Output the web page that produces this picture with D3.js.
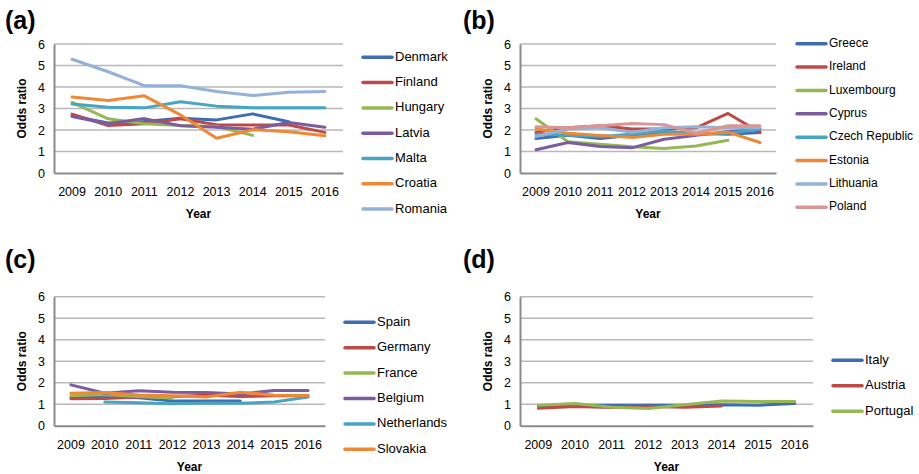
<!DOCTYPE html>
<html><head><meta charset="utf-8">
<script src="https://cdn.jsdelivr.net/npm/d3@7"></script>
<style>
body{margin:0;background:#fff;}
svg{display:block;font-family:"Liberation Sans",Arial,sans-serif;}
</style></head>
<body><svg id="c" width="919" height="474"></svg>
<script>
const years = [2009, 2010, 2011, 2012, 2013, 2014, 2015, 2016];
const yTicks = [0, 1, 2, 3, 4, 5, 6];
const palette = ["#3F6DB3", "#BE4A47", "#95B854", "#7B5C9E", "#45A5C2", "#EF8834", "#94B2D8", "#D99694"];

// Panel (a)
const countriesA = ["Denmark", "Finland", "Hungary", "Latvia", "Malta", "Croatia", "Romania"];
const valuesA = [
  [2.65, 2.33, 2.40, 2.55, 2.47, 2.75, 2.38, null],
  [2.74, 2.21, 2.29, 2.52, 2.24, 2.23, 2.23, 1.89],
  [3.28, 2.52, 2.29, 2.21, 2.16, 1.75, null, null],
  [2.63, 2.29, 2.53, 2.20, 2.13, 2.04, 2.35, 2.13],
  [3.21, 3.06, 3.03, 3.31, 3.11, 3.03, 3.04, 3.04],
  [3.54, 3.37, 3.59, 2.70, 1.62, 2.01, 1.92, 1.73],
  [5.29, 4.71, 4.06, 4.06, 3.79, 3.60, 3.76, 3.79]
];

// Panel (b)
const countriesB = ["Greece", "Ireland", "Luxembourg", "Cyprus", "Czech Republic", "Estonia", "Lithuania", "Poland"];
const valuesB = [
  [1.60, 1.75, 1.60, 1.75, 1.90, 1.85, 1.80, 1.88],
  [1.90, 2.10, 2.20, 2.05, 2.05, 2.10, 2.77, 1.88],
  [2.52, 1.45, 1.34, 1.22, 1.14, 1.26, 1.52, null],
  [1.08, 1.42, 1.23, 1.17, 1.57, 1.75, 1.92, 2.03],
  [1.80, 1.75, 1.70, 1.80, 1.95, 1.80, 1.85, 2.05],
  [2.05, 1.85, 1.75, 1.65, 1.80, 1.80, 1.90, 1.42],
  [1.70, 2.05, 2.10, 1.90, 2.10, 2.15, 2.10, 2.10],
  [2.15, 2.10, 2.20, 2.30, 2.25, 1.85, 2.20, 2.20]
];

// Panel (c)
const countriesC = ["Spain", "Germany", "France", "Belgium", "Netherlands", "Slovakia"];
const valuesC = [
  [1.30, 1.35, 1.30, 1.15, 1.15, 1.15, null, null],
  [1.25, 1.26, 1.33, 1.36, 1.42, 1.36, 1.39, 1.39],
  [1.39, 1.45, 1.36, 1.29, null, null, null, null],
  [1.90, 1.51, 1.62, 1.56, 1.54, 1.47, 1.64, 1.64],
  [null, 1.10, 1.07, 1.02, 1.06, 1.04, 1.10, 1.33],
  [1.51, 1.54, 1.43, 1.39, 1.33, 1.56, 1.42, 1.40]
];

// Panel (d)
const countriesD = ["Italy", "Austria", "Portugal"];
const valuesD = [
  [0.93, 0.95, 0.95, 0.95, 0.95, 0.97, 0.95, 1.03],
  [0.81, 0.89, 0.85, 0.89, 0.86, 0.92, null, null],
  [0.95, 1.03, 0.86, 0.80, 0.97, 1.15, 1.12, 1.13]
];

const panels = [
  {label: "(a)", lx: 5, ly: 29, L: 54, R: 343, T: 44, B: 173, legX: 363, legY: 57.3, legStep: 25.3, legFont: 13, names: countriesA, vals: valuesA},
  {label: "(b)", lx: 463, ly: 29, L: 520, R: 776, T: 44, B: 173, legX: 797, legY: 43.7, legStep: 23.37, legFont: 12, names: countriesB, vals: valuesB},
  {label: "(c)", lx: 5, ly: 268, L: 54, R: 325, T: 296.7, B: 425.7, legX: 345, legY: 322.3, legStep: 25.4, legFont: 13, names: countriesC, vals: valuesC},
  {label: "(d)", lx: 463, ly: 268, L: 520, R: 813, T: 296.7, B: 425.7, legX: 833, legY: 360.3, legStep: 25.5, legFont: 13, names: countriesD, vals: valuesD}
];

const svg = d3.select("#c");

panels.forEach(p => {
  const g = svg.append("g");
  const x = d3.scaleBand().domain(years).range([p.L, p.R]);
  const y = d3.scaleLinear().domain([0, 6]).range([p.B, p.T]);

  g.append("text").attr("x", p.lx).attr("y", p.ly).attr("font-size", 25).attr("font-weight", "bold").attr("fill", "#000").text(p.label);

  // gridlines
  g.selectAll(".grid").data(yTicks.filter(t => t > 0)).enter().append("line")
    .attr("x1", p.L).attr("x2", p.R).attr("y1", d => y(d)).attr("y2", d => y(d))
    .attr("stroke", "#B8B8B8").attr("stroke-width", 1.5);

  // y axis
  const yAxis = d3.axisLeft(y).tickValues(yTicks).tickSize(0).tickPadding(9).tickFormat(d3.format("d"));
  const ya = g.append("g").attr("transform", `translate(${p.L},0)`).call(yAxis);
  ya.select(".domain").attr("stroke", "#8A8A8A").attr("stroke-width", 2);
  ya.selectAll("text").attr("font-size", 12.5).attr("fill", "#000").attr("font-family", "Liberation Sans, Arial, sans-serif");

  // x axis
  const xAxis = d3.axisBottom(x).tickSize(0).tickPadding(14);
  const xa = g.append("g").attr("transform", `translate(0,${p.B})`).call(xAxis);
  xa.select(".domain").attr("stroke", "#8A8A8A").attr("stroke-width", 2);
  xa.selectAll("text").attr("font-size", 12.5).attr("fill", "#000").attr("font-family", "Liberation Sans, Arial, sans-serif");

  // axis titles
  g.append("text").attr("transform", `translate(${p.L - 31},${(p.T + p.B) / 2}) rotate(-90)`)
    .attr("text-anchor", "middle").attr("dominant-baseline", "middle")
    .attr("font-size", 12).attr("font-weight", "bold").text("Odds ratio");
  g.append("text").attr("x", (p.L + p.R) / 2).attr("y", p.B + 45)
    .attr("text-anchor", "middle").attr("font-size", 12).attr("font-weight", "bold").text("Year");

  // lines
  const line = d3.line()
    .defined(d => d.v !== null)
    .x(d => x(d.year) + x.bandwidth() / 2)
    .y(d => y(d.v));
  p.vals.forEach((vs, i) => {
    const pts = years.map((yr, j) => ({year: yr, v: vs[j]}));
    g.append("path").datum(pts).attr("d", line)
      .attr("fill", "none").attr("stroke", palette[i]).attr("stroke-width", 3)
      .attr("stroke-linejoin", "round").attr("stroke-linecap", "round");
  });

  // legend
  p.names.forEach((n, i) => {
    const ly = p.legY + i * p.legStep;
    g.append("line").attr("x1", p.legX).attr("x2", p.legX + 29).attr("y1", ly).attr("y2", ly)
      .attr("stroke", palette[i]).attr("stroke-width", 3.5).attr("stroke-linecap", "round");
    g.append("text").attr("x", p.legX + 32).attr("y", ly).attr("dominant-baseline", "middle")
      .attr("font-size", p.legFont).attr("fill", "#000").text(n);
  });
});
</script></body></html>
